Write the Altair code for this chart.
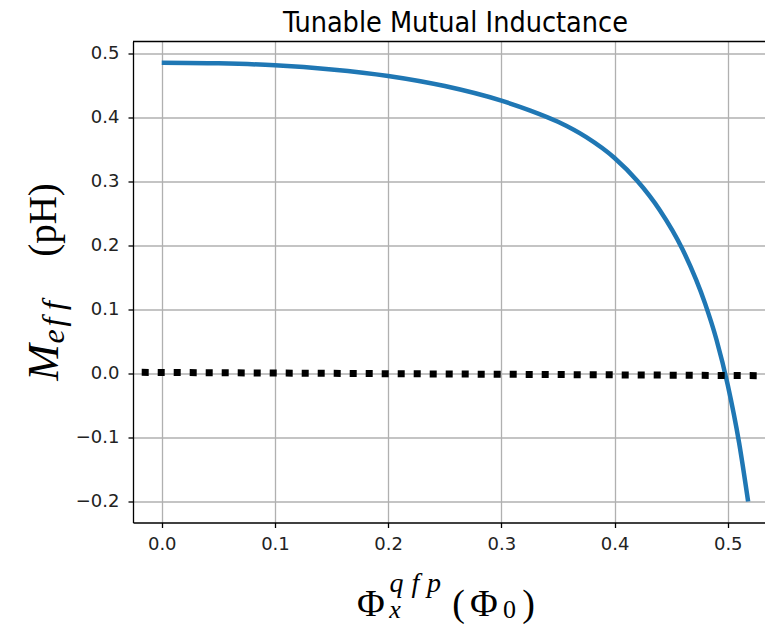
import altair as alt
import pandas as pd

# ---------------- data ----------------
phi = [0.0, 0.05, 0.1, 0.15, 0.2, 0.25, 0.3, 0.325, 0.35, 0.375, 0.4,
       0.42, 0.44, 0.46, 0.48, 0.49, 0.50, 0.51, 0.518]
m_eff = [0.4853, 0.4843, 0.4813, 0.4748, 0.4646, 0.4488, 0.4260, 0.4110,
         0.3930, 0.3690, 0.3365, 0.3010, 0.2550, 0.1940, 0.1090, 0.0530,
         -0.0180, -0.1080, -0.2000]

ref_phi = [-0.0177, 0.5329]
ref_m = [0.0017, -0.0035]

x_ticks = [0.0, 0.1, 0.2, 0.3, 0.4, 0.5]
y_ticks = [-0.2, -0.1, 0.0, 0.1, 0.2, 0.3, 0.4, 0.5]

title_text = "Tunable Mutual Inductance"

# ---------------- layout ----------------
W, H = 632, 481
LEFT, TOP = 125, 33.5
BOTTOM = 616 - TOP - H
OX, OY = 8 + LEFT, 8 + TOP  # page position of the plot origin

X_DOMAIN = [-0.0254, 0.5329]
Y_DOMAIN = [-0.2328, 0.5184]

curve_df = pd.DataFrame({"phi": phi, "m": m_eff})
ref_df = pd.DataFrame({"phi": ref_phi, "m": ref_m})

xs = alt.Scale(domain=X_DOMAIN, nice=False, zero=False)
ys = alt.Scale(domain=Y_DOMAIN, nice=False, zero=False)

axis_common = dict(
    grid=True, gridColor="#b0b0b0", gridWidth=1.3, gridOpacity=1,
    domain=True, domainColor="#000000", domainWidth=1.3,
    ticks=True, tickColor="#000000", tickWidth=1.3, tickSize=5,
    labelFont="DejaVu Sans", labelFontSize=18, labelColor="#222222",
    title=None, format=".1f",
)

x_axis = alt.Axis(values=x_ticks, labelPadding=8, **axis_common)
y_axis = alt.Axis(values=y_ticks, labelPadding=9, **axis_common)

curve = alt.Chart(curve_df).mark_line(
    color="#1f77b4", strokeWidth=4.5, interpolate="monotone"
).encode(
    x=alt.X("phi:Q", scale=xs, axis=x_axis),
    y=alt.Y("m:Q", scale=ys, axis=y_axis),
    order="phi:Q",
)

ref_line = alt.Chart(ref_df).mark_line(
    color="#000000", strokeWidth=7, strokeDash=[7, 9], strokeCap="butt", clip=True
).encode(
    x=alt.X("phi:Q", scale=xs),
    y=alt.Y("m:Q", scale=ys),
)

top_spine = alt.Chart(pd.DataFrame({"a": [0]})).mark_rule(
    color="#000000", strokeWidth=1.3
).encode(x=alt.value(0), x2=alt.value(W), y=alt.value(0))


def txt(text, px, py, size, italic=False, family="Liberation Serif",
        angle=0, align="center", baseline="alphabetic"):
    kw = dict(text=text, fontSize=size, font=family, align=align,
              baseline=baseline, color="#000000")
    if italic:
        kw["fontStyle"] = "italic"
    if angle:
        kw["angle"] = angle
    return alt.Chart(pd.DataFrame({"a": [0]})).mark_text(**kw).encode(
        x=alt.value(px - OX), y=alt.value(py - OY)
    )


layers = [curve, ref_line, top_spine]

# title
layers.append(txt(title_text, 455.5, 31.5, 28.5,
                  family="DejaVu Sans Condensed, DejaVu Sans"))

# y label: M_eff (pH), rotated (page coordinates: baseline x, centre y)
for t, cy, bx, size, it in [
    ("M", 362.5, 58, 44, True),
    ("e", 336.5, 64, 32, True),
    ("f", 322.0, 64, 32, True),
    ("f", 305.5, 64, 32, True),
    ("(pH)", 220.0, 56, 39, False),
]:
    layers.append(txt(t, bx, cy, size, italic=it, angle=270))

# x label: Phi_x^{qfp}(Phi_0)
for t, cx, by, size, it in [
    ("Φ", 371.0, 616, 38, False),
    ("x", 395.0, 618, 26, True),
    ("q", 396.5, 592, 28, True),
    ("f", 415.5, 592, 28, True),
    ("p", 434.0, 592, 28, True),
    ("(", 458.5, 616, 38, False),
    ("Φ", 484.0, 616, 38, False),
    ("0", 509.5, 618, 26, False),
    (")", 528.5, 616, 38, False),
]:
    layers.append(txt(t, cx, by, size, italic=it))

chart = alt.layer(*layers).properties(
    width=W, height=H,
    autosize=alt.AutoSizeParams(type="none"),
    padding={"left": LEFT, "top": TOP, "right": 0, "bottom": BOTTOM},
    background="#ffffff",
).configure_view(stroke=None)

chart.save("out.html", embed_options={"renderer": "svg", "actions": False})
